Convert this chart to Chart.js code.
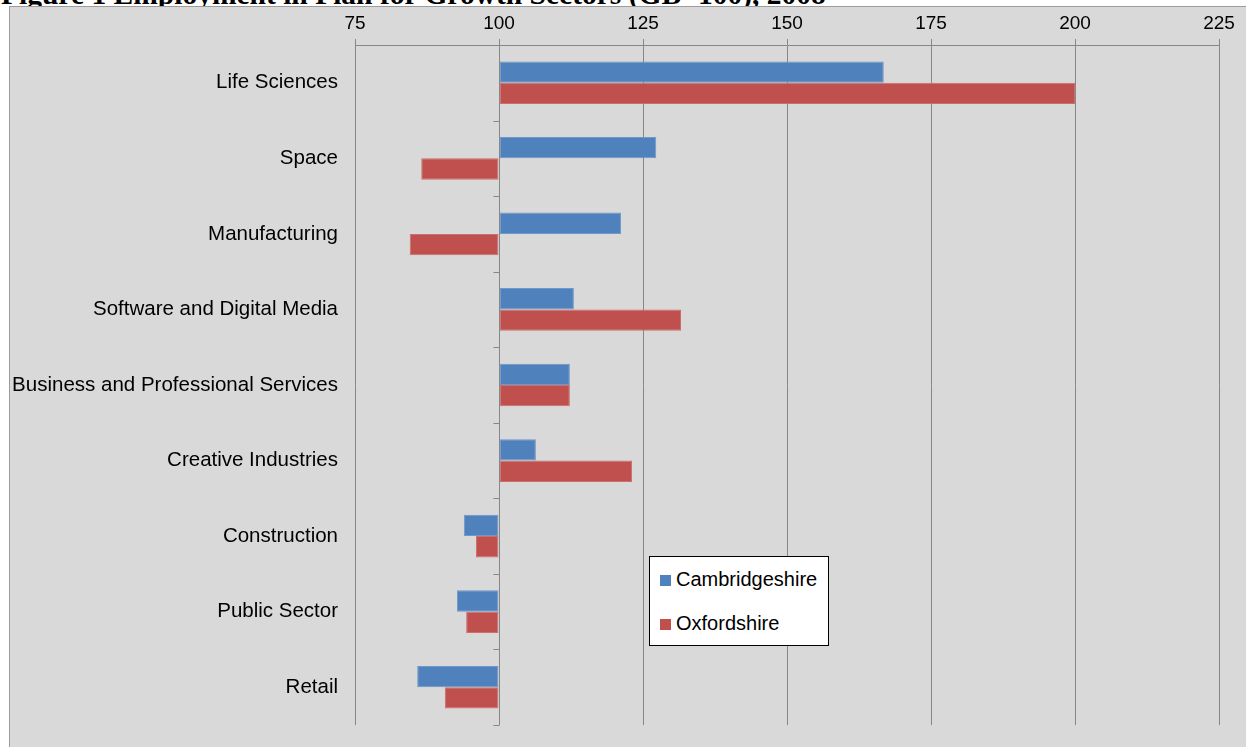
<!DOCTYPE html>
<html>
<head>
<meta charset="utf-8">
<script src="https://cdn.jsdelivr.net/npm/chart.js@4.4.1/dist/chart.umd.min.js"></script>
<style>
  html, body { margin: 0; padding: 0; background: #ffffff; overflow: hidden; }
  #title { position: absolute; left: 1px; top: -20px; font-family: "Liberation Serif", "Times New Roman", serif; font-weight: bold; font-size: 29.5px; line-height: 29.5px; white-space: nowrap; color: #000; }
  #box { position: absolute; left: 9px; top: 6px; width: 1260px; height: 760px; background: #d9d9d9; border-left: 1px solid #9c9c9c; border-top: 1px solid #9c9c9c; }
  #wrap { position: absolute; left: 10px; top: 7px; width: 1236px; height: 740px; }
  #legend { position: absolute; left: 649px; top: 556px; width: 178px; height: 88px; background: #fff; border: 1px solid #000; font-family: "Liberation Sans", Arial, sans-serif; font-size: 20px; color: #000; }
  .item { position: absolute; left: 10px; height: 22px; line-height: 22px; white-space: nowrap; }
  .sw { display: inline-block; width: 11px; height: 11px; margin-right: 5px; vertical-align: 0px; }
</style>
</head>
<body>
<div id="title">Figure 1 Employment in Plan for Growth Sectors (GB=100), 2008</div>
<div id="box"></div>
<div id="wrap"><canvas id="c"></canvas></div>
<div id="legend">
  <div class="item" style="top:11px"><span class="sw" style="background:#4f81bd"></span>Cambridgeshire</div>
  <div class="item" style="top:55px"><span class="sw" style="background:#c0504d"></span>Oxfordshire</div>
</div>
<script>
const categories = ["Life Sciences", "Space", "Manufacturing", "Software and Digital Media", "Business and Professional Services", "Creative Industries", "Construction", "Public Sector", "Retail"];
const cambridgeshire = [166.8, 127.3, 121.2, 113.0, 112.3, 106.4, 93.9, 92.7, 85.8];
const oxfordshire = [200.0, 86.5, 84.5, 131.6, 112.3, 123.1, 96.0, 94.3, 90.6];
const seriesNames = ["Cambridgeshire", "Oxfordshire"];
const baseValue = 100;
const xTicks = [75, 100, 125, 150, 175, 200, 225];

const gridColor = '#878787';

const baseLinePlugin = {
  id: 'baseLine',
  afterDatasetsDraw(chart) {
    const ctx = chart.ctx;
    const xs = chart.scales.x, ys = chart.scales.y;
    const x0 = Math.round(xs.getPixelForValue(baseValue)) + 0.5;
    ctx.save();
    ctx.strokeStyle = gridColor;
    ctx.lineWidth = 1;
    ctx.beginPath();
    ctx.moveTo(x0, ys.top);
    ctx.lineTo(x0, ys.bottom);
    for (let i = 0; i <= categories.length; i++) {
      const y = Math.round(ys.getPixelForValue(i - 0.5)) + 0.5;
      ctx.moveTo(x0 - 6, y);
      ctx.lineTo(x0, y);
    }
    ctx.stroke();
    ctx.restore();
  }
};

new Chart(document.getElementById('c'), {
  type: 'bar',
  data: {
    labels: categories,
    datasets: [
      { label: seriesNames[0], data: cambridgeshire, base: baseValue, backgroundColor: '#4f81bd', borderColor: '#6f97c9', borderWidth: 1, borderSkipped: false },
      { label: seriesNames[1], data: oxfordshire, base: baseValue, backgroundColor: '#c0504d', borderColor: '#cc6f6c', borderWidth: 1, borderSkipped: false }
    ]
  },
  options: {
    indexAxis: 'y',
    responsive: true,
    maintainAspectRatio: false,
    animation: false,
    layout: { padding: { top: 0, left: 0, right: 27, bottom: 22 } },
    plugins: { legend: { display: false }, tooltip: { enabled: false } },
    datasets: { bar: { categoryPercentage: 0.565, barPercentage: 1.0 } },
    scales: {
      x: {
        position: 'top',
        min: 75, max: 225,
        afterBuildTicks(scale) { scale.ticks = xTicks.map(v => ({ value: v })); },
        afterFit(scale) { scale.height = 38; scale.paddingLeft = 0; scale.paddingRight = 0; },
        grid: { color: gridColor, tickLength: 6, drawTicks: true, tickColor: gridColor },
        border: { display: true, color: gridColor },
        ticks: { color: '#000', padding: 4, font: { family: 'Liberation Sans', size: 19 } }
      },
      y: {
        afterFit(scale) { scale.width = 345; scale.paddingTop = 0; scale.paddingBottom = 0; },
        grid: { display: false, tickLength: 0 },
        border: { display: false },
        ticks: { color: '#000', padding: 17, font: { family: 'Liberation Sans', size: 20.5 } }
      }
    }
  },
  plugins: [baseLinePlugin]
});
</script>
</body>
</html>
